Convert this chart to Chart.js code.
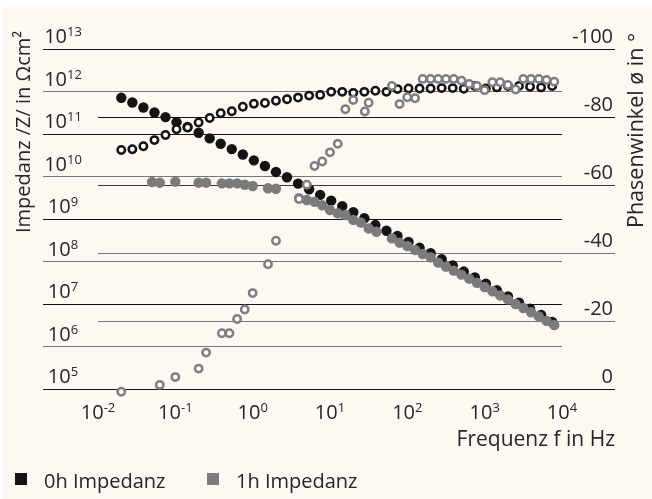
<!DOCTYPE html>
<html>
<head>
<meta charset="utf-8">
<script src="https://cdn.jsdelivr.net/npm/chart.js@4.4.0/dist/chart.umd.min.js"></script>
<style>
    html, body { margin: 0; padding: 0; background: #fff; }
    canvas { display: block; }
</style>
</head>
<body>
<canvas id="graphCanvas" width="652" height="499"></canvas>
<script>
// 0h measurement: frequency (Hz), |Z| (Ohm cm2), phase (deg)
var freq0h = [0.02, 0.0278, 0.0386, 0.0537, 0.0746, 0.1036, 0.144, 0.2, 0.278, 0.386,
              0.537, 0.746, 1.036, 1.44, 2, 2.78, 3.86, 5.37, 7.46, 10.36,
              14.4, 20, 27.8, 38.6, 53.7, 74.6, 103.6, 144, 200, 278,
              386, 537, 746, 1036, 1440, 2000, 2780, 3860, 5370, 7460];
var imp0h = [7.1e11, 5.5e11, 4.2e11, 3.2e11, 2.5e11, 1.9e11, 1.46e11, 1.07e11, 7.9e10, 5.9e10,
             4.4e10, 3.3e10, 2.4e10, 1.77e10, 1.28e10, 9.6e9, 6.8e9, 5.0e9, 3.7e9, 2.7e9,
             2.0e9, 1.44e9, 1.04e9, 7.2e8, 5.3e8, 4.0e8, 2.9e8, 2.1e8, 1.56e8, 1.13e8,
             8.1e7, 5.8e7, 4.2e7, 3.0e7, 2.1e7, 1.5e7, 1.08e7, 7.7e6, 5.5e6, 3.8e6];
var phase0h = [-70.3, -70.5, -71.4, -73.2, -74.7, -76.4, -76.9, -78.4, -79.7, -81.1,
               -81.7, -83.0, -83.9, -84.1, -84.8, -85.2, -85.7, -86.3, -86.5, -87.4,
               -87.4, -87.1, -87.4, -87.7, -87.4, -88.2, -88.4, -88.4, -88.4, -88.5,
               -88.5, -88.3, -89.1, -88.4, -88.7, -89.1, -89.1, -88.9, -88.7, -89.1];

// 1h measurement
var freqImp1h = [0.05, 0.063, 0.1, 0.2, 0.25, 0.4, 0.5, 0.63, 0.79, 1,
                 1.58, 2, 3.98, 5.01, 6.31, 7.94, 10, 12.6, 15.8, 20,
                 25.1, 31.6, 39.8, 63.1, 79.4, 100, 126, 158, 200, 251,
                 316, 398, 501, 631, 794, 1000, 1259, 1585, 1995, 2512,
                 3162, 3981, 5012, 6310, 7943];
var imp1h = [7.4e9, 7.15e9, 7.55e9, 7.15e9, 7.15e9, 6.9e9, 6.9e9, 6.9e9, 6.4e9, 5.97e9,
             5.27e9, 5.16e9, 3.07e9, 2.8e9, 2.55e9, 2.1e9, 1.63e9, 1.36e9, 1.24e9, 9.5e8,
             8.2e8, 6.0e8, 5.0e8, 3.5e8, 2.77e8, 2.32e8, 1.87e8, 1.5e8, 1.26e8, 9.4e7,
             7.55e7, 6.1e7, 4.9e7, 3.94e7, 3.17e7, 2.51e7, 1.99e7, 1.59e7, 1.28e7, 1.0e7,
             8.05e6, 6.4e6, 5.1e6, 4.0e6, 3.2e6];
var freqPhase1h = [0.02, 0.063, 0.1, 0.2, 0.25, 0.4, 0.5, 0.63, 0.79, 1,
                   1.58, 2, 3.98, 5.01, 6.31, 7.94, 10, 12.6, 15.8, 20,
                   28.2, 31.6, 63.1, 79.4, 100, 126, 158, 200, 251, 316,
                   398, 501, 631, 794, 1000, 1259, 1585, 1995, 2512, 3162,
                   3981, 5012, 6310, 7943];
var phase1h = [0.8, -1.2, -3.5, -6.0, -10.7, -16.4, -16.4, -20.6, -23.4, -28.2,
               -36.7, -43.6, -55.9, -60.1, -65.6, -66.9, -69.6, -72.1, -82.3, -85.0,
               -81.6, -84.2, -89.1, -83.8, -85.8, -85.5, -91.2, -91.2, -91.2, -91.2,
               -91.2, -90.7, -89.7, -89.1, -87.9, -90.2, -90.2, -89.4, -88.1, -91.2,
               -91.2, -91.2, -90.9, -90.4, -90.1];

var freqTicks = [0.01, 0.1, 1, 10, 100, 1000, 10000];
var impTicks = [1e5, 1e6, 1e7, 1e8, 1e9, 1e10, 1e11, 1e12, 1e13];
var phaseTicks = [0, -20, -40, -60, -80, -100];
var legendNames = ['0h Impedanz', '1h Impedanz'];

var black = '#141414';
var grey = '#7b7b7b';
var textColor = '#262626';
var fontName = '"Open Sans", "Noto Sans", sans-serif';

function toPoints(xs, ys) {
    var pts = [];
    for (var i = 0; i < xs.length && i < ys.length; i++) {
        pts.push({ x: xs[i], y: ys[i] });
    }
    return pts;
}

function impGridColor(c) {
    if (!c.tick) return black;
    var e = Math.round(Math.log10(c.tick.value));
    return (e % 2 === 0) ? '#767676' : black;
}

function phaseGridColor(c) {
    if (!c.tick) return black;
    var v = c.tick.value;
    if (v === -20 || v === -40) return '#767676';
    if (v === -60) return '#3a3a3a';
    return black;
}

function drawPow(ctx, exp, x, y) {
    ctx.font = '20px ' + fontName;
    var w1 = ctx.measureText('10').width;
    ctx.font = '13px ' + fontName;
    var w2 = ctx.measureText(exp).width;
    var x0 = x - (w1 + w2) / 2;
    ctx.textAlign = 'left';
    ctx.font = '20px ' + fontName;
    ctx.fillText('10', x0, y);
    ctx.font = '13px ' + fontName;
    ctx.fillText(exp, x0 + w1, y - 7);
}

var labelPlugin = {
    id: 'labelPlugin',
    beforeDraw: function (chart) {
        var c = chart.ctx;
        c.save();
        c.fillStyle = '#ffffff';
        c.fillRect(0, 0, chart.width, chart.height);
        c.fillStyle = '#fdf8f1';
        c.fillRect(3, 7, chart.width - 3, chart.height - 7);
        c.restore();
    },
    afterDraw: function (chart) {
        var c = chart.ctx;
        var xs = chart.scales.x, ys = chart.scales.y, ps = chart.scales.y1;
        c.save();
        c.fillStyle = textColor;
        c.textBaseline = 'alphabetic';

        impTicks.forEach(function (v) {
            drawPow(c, String(Math.round(Math.log10(v))), 63, ys.getPixelForValue(v) - 6);
        });
        freqTicks.forEach(function (v) {
            drawPow(c, String(Math.round(Math.log10(v))), xs.getPixelForValue(v), 419);
        });

        c.font = '20px ' + fontName;
        c.textAlign = 'right';
        phaseTicks.forEach(function (v) {
            c.fillText(String(v), 613, ps.getPixelForValue(v) - 6);
        });
        c.font = '21px ' + fontName;
        c.fillText('Frequenz f in Hz', 615, 446);

        // axis titles
        c.textAlign = 'left';
        c.font = '20px ' + fontName;
        c.save();
        c.translate(30, 233);
        c.rotate(-Math.PI / 2);
        c.fillText('Impedanz /Z/ in \u03A9cm\u00B2', 0, 0);
        c.restore();
        c.font = '21.5px ' + fontName;
        c.save();
        c.translate(643, 228);
        c.rotate(-Math.PI / 2);
        c.fillText('Phasenwinkel \u00F8 in \u00B0', 0, 0);
        c.restore();

        // legend
        c.font = '20px ' + fontName;
        var lx = [15, 207];
        var lc = [black, grey];
        for (var i = 0; i < legendNames.length; i++) {
            c.fillStyle = lc[i];
            c.fillRect(lx[i], 473, 12, 12);
            c.fillStyle = textColor;
            c.fillText(legendNames[i], lx[i] + 29, 488);
        }
        c.restore();
    }
};

function showGraph() {
    var ctx = document.getElementById('graphCanvas');

    var datasets = [
        {
            label: '1h Phase',
            data: toPoints(freqPhase1h, phase1h),
            yAxisID: 'y1',
            pointRadius: 3.7,
            borderWidth: 2.5,
            borderColor: '#7f7f7f',
            backgroundColor: '#ffffff',
            clip: false,
            order: 0
        },
        {
            label: '0h Phase',
            data: toPoints(freq0h, phase0h),
            yAxisID: 'y1',
            pointRadius: 3.7,
            borderWidth: 2.5,
            borderColor: black,
            backgroundColor: '#ffffff',
            clip: false,
            order: 1
        },
        {
            label: legendNames[1],
            data: toPoints(freqImp1h, imp1h),
            yAxisID: 'y',
            pointRadius: 5.2,
            borderWidth: 0,
            backgroundColor: grey,
            clip: false,
            order: 2
        },
        {
            label: legendNames[0],
            data: toPoints(freq0h, imp0h),
            yAxisID: 'y',
            pointRadius: 5.2,
            borderWidth: 0,
            backgroundColor: black,
            clip: false,
            order: 3
        }
    ];

    new Chart(ctx, {
        type: 'scatter',
        data: { datasets: datasets },
        plugins: [labelPlugin],
        options: {
            responsive: false,
            animation: false,
            events: [],
            layout: { padding: { left: 43, right: 37, top: 49, bottom: 0 } },
            plugins: {
                legend: { display: false },
                tooltip: { enabled: false }
            },
            elements: { point: { hoverRadius: 0 } },
            scales: {
                x: {
                    type: 'logarithmic',
                    position: 'bottom',
                    min: freqTicks[0],
                    max: freqTicks[freqTicks.length - 1],
                    grid: { display: false },
                    border: { display: false },
                    ticks: { display: false },
                    afterBuildTicks: function (s) {
                        s.ticks = freqTicks.map(function (v) { return { value: v }; });
                    },
                    afterFit: function (s) { s.height = 110; }
                },
                y: {
                    type: 'logarithmic',
                    position: 'left',
                    min: impTicks[0],
                    max: impTicks[impTicks.length - 1],
                    grid: { color: impGridColor, tickColor: impGridColor, lineWidth: 1, tickLength: 55 },
                    border: { display: false },
                    ticks: { display: false },
                    afterBuildTicks: function (s) {
                        s.ticks = impTicks.map(function (v) { return { value: v }; });
                    },
                    afterFit: function (s) { s.width = 55; }
                },
                y1: {
                    type: 'linear',
                    position: 'right',
                    min: -100,
                    max: 0,
                    reverse: true,
                    grid: { color: phaseGridColor, tickColor: phaseGridColor, lineWidth: 1, tickLength: 53 },
                    border: { display: false },
                    ticks: { display: false },
                    afterBuildTicks: function (s) {
                        s.ticks = phaseTicks.map(function (v) { return { value: v }; });
                    },
                    afterFit: function (s) { s.width = 53; }
                }
            }
        }
    });
}

showGraph();
</script>
</body>
</html>
